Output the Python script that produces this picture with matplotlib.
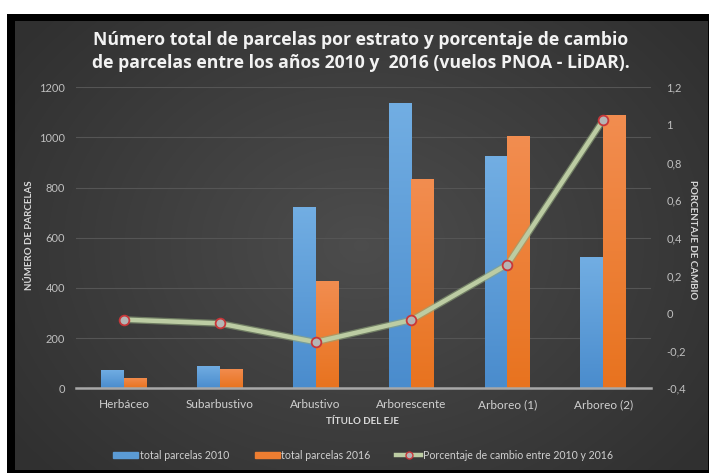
import numpy as np
import matplotlib
matplotlib.use('Agg')
import matplotlib.pyplot as plt
from matplotlib.patches import Rectangle
from matplotlib.lines import Line2D
from matplotlib.ticker import FuncFormatter

plt.rcParams['font.family'] = ['Lato', 'DejaVu Sans']

# datos
categorias = ['Herbáceo', 'Subarbustivo', 'Arbustivo', 'Arborescente', 'Arboreo (1)', 'Arboreo (2)']
parcelas_2010 = [73, 89, 722, 1137, 925, 523]
parcelas_2016 = [42, 77, 429, 833, 1004, 1089]
cambio = [-0.035, -0.055, -0.154, -0.037, 0.257, 1.025]

W, H = 709, 473
fig = plt.figure(figsize=(W / 100, H / 100), dpi=100)
fig.patch.set_facecolor('white')

# fondo: marco negro + degradado gris
bg = fig.add_axes([0, 0, 1, 1])
bg.set_xlim(0, W)
bg.set_ylim(H, 0)
bg.axis('off')
bg.add_patch(Rectangle((7, 14), W - 7, H - 14, facecolor='black', edgecolor='none', zorder=1))
gx, gy = np.meshgrid(np.linspace(0, 1, 300), np.linspace(0, 1, 200))
r = np.sqrt(((gx - 0.5) / 0.62) ** 2 + ((gy - 0.5) / 0.75) ** 2)
t = np.clip(r, 0, 1)
c0, c1 = np.array([0.30, 0.30, 0.30]), np.array([0.19, 0.19, 0.19])
img = c0[None, None, :] * (1 - t[..., None]) + c1[None, None, :] * t[..., None]
bg.imshow(img, extent=[15, 708, 470, 22], aspect='auto', interpolation='bilinear', zorder=2)
bg.set_xlim(0, W)
bg.set_ylim(H, 0)

ax = fig.add_axes([76 / W, 1 - 388.3 / H, (651 - 76) / W, (388.3 - 87.3) / H])
ax.patch.set_alpha(0)
x = np.arange(len(categorias))
bw = 0.237
azul = '#5b9bd5'
naranja = '#ed7d31'
b1 = ax.bar(x - bw / 2, parcelas_2010, bw, color=azul, zorder=2)
b2 = ax.bar(x + bw / 2, parcelas_2016, bw, color=naranja, zorder=2)

# degradado en las barras
def degradar(barras, top, bottom):
    grad = np.linspace(0, 1, 100)[:, None, None]
    arr = np.array(matplotlib.colors.to_rgb(top)) * (1 - grad) + np.array(matplotlib.colors.to_rgb(bottom)) * grad
    for b in barras:
        x0, y0 = b.get_x(), b.get_y()
        w, h = b.get_width(), b.get_height()
        im = ax.imshow(arr, extent=[x0, x0 + w, y0, y0 + h], aspect='auto', zorder=2.1,
                       interpolation='bilinear')
        im.set_clip_path(b)

degradar(b1, '#72aee3', '#4a8ccd')
degradar(b2, '#f28d50', '#e8731f')

ax.set_xlim(-0.5, len(categorias) - 0.5)
ax.set_ylim(0, 1200)
ax.set_yticks(range(0, 1201, 200))
ax.yaxis.grid(True, color='#555555', lw=0.8, zorder=0)
ax.set_axisbelow(True)
for s in ['top', 'left', 'right']:
    ax.spines[s].set_visible(False)
ax.spines['bottom'].set_color('#a8a8a8')
ax.spines['bottom'].set_linewidth(1.8)
ax.spines['bottom'].set_zorder(3)
ax.set_xticks(x)
ax.set_xticklabels(categorias)
ax.tick_params(axis='x', length=0, pad=8, colors='#d0d0d0', labelsize=8.5)
ax.tick_params(axis='y', length=0, pad=8, colors='#bfbfbf', labelsize=8)

ax2 = ax.twinx()
ax2.set_ylim(-0.4, 1.2)
ax2.set_yticks(np.arange(-0.4, 1.21, 0.2))
ax2.yaxis.set_major_formatter(FuncFormatter(lambda v, p: ('%g' % round(v, 1)).replace('.', ',')))
for s in ax2.spines.values():
    s.set_visible(False)
ax2.tick_params(axis='y', length=0, pad=11, colors='#bfbfbf', labelsize=8)
ax2.plot(x, cambio, color='#8fa57a', lw=5, alpha=0.6, zorder=3, solid_capstyle='round')
ax2.plot(x, cambio, color='#bccca3', lw=3.2, zorder=4, marker='o', markersize=7,
         markerfacecolor='#b5b5b5', markeredgecolor='#c8373a', markeredgewidth=1.3)

fig.text(361 / W, 1 - 40 / H, 'Número total de parcelas por estrato y porcentaje de cambio',
         ha='center', va='center', color='#f2f2f2', fontsize=12.7, fontweight='bold',
         family=['Open Sans', 'DejaVu Sans'])
fig.text(361 / W, 1 - 63 / H, 'de parcelas entre los años 2010 y  2016 (vuelos PNOA - LiDAR).',
         ha='center', va='center', color='#f2f2f2', fontsize=12.7, fontweight='bold',
         family=['Open Sans', 'DejaVu Sans'])

fig.text(30 / W, 1 - 235 / H, 'NÚMERO DE PARCELAS', rotation=90, ha='center', va='center',
         color='#d9d9d9', fontsize=7, fontweight='bold')
fig.text(693 / W, 1 - 240 / H, 'PORCENTAJE DE CAMBIO', rotation=270, ha='center', va='center',
         color='#d9d9d9', fontsize=7, fontweight='bold')
fig.text(363 / W, 1 - 421 / H, 'TÍTULO DEL EJE', ha='center', va='center',
         color='#d9d9d9', fontsize=7, fontweight='bold')

handles = [Rectangle((0, 0), 1, 1, color=azul), Rectangle((0, 0), 1, 1, color=naranja),
           Line2D([], [], color='#bccca3', lw=3.2, marker='o', markersize=5,
                  markerfacecolor='#b5b5b5', markeredgecolor='#c8373a')]
etiquetas = ['total parcelas 2010', 'total parcelas 2016', 'Porcentaje de cambio entre 2010 y 2016']
leg = fig.legend(handles, etiquetas, loc='center', bbox_to_anchor=(363 / W, 1 - 455 / H), ncol=3,
                 frameon=False, fontsize=7.6, handlelength=2.4, handleheight=0.45, handletextpad=0.15,
                 columnspacing=2.4, labelcolor='#d0d0d0')

fig.savefig('out.png', dpi=100, facecolor='white')
